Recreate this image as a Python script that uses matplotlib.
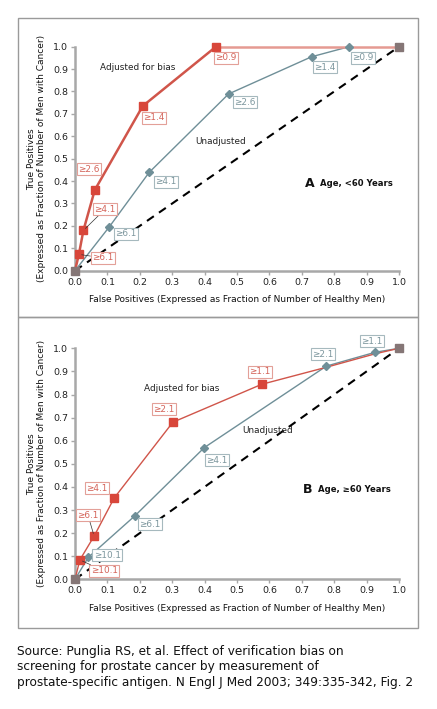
import matplotlib
matplotlib.use("Agg")
import matplotlib.pyplot as plt
from matplotlib.patches import Rectangle

# ---------------- data ----------------
# Panel A (age < 60)
a_adj_x = [0.0, 0.012, 0.026, 0.061, 0.209, 0.435, 1.0]
a_adj_y = [0.0, 0.073, 0.180, 0.360, 0.735, 1.0, 1.0]
a_adj_labels = ["≥6.1", "≥4.1", "≥2.6", "≥1.4", "≥0.9"]
a_una_x = [0.0, 0.106, 0.229, 0.474, 0.730, 0.846, 1.0]
a_una_y = [0.0, 0.196, 0.439, 0.789, 0.955, 1.0, 1.0]
a_una_labels = ["≥6.1", "≥4.1", "≥2.6", "≥1.4", "≥0.9"]

# Panel B (age >= 60)
b_adj_x = [0.0, 0.015, 0.059, 0.121, 0.302, 0.576, 0.776, 0.926, 1.0]
b_adj_y = [0.0, 0.084, 0.187, 0.352, 0.680, 0.844, 0.918, 0.976, 1.0]
b_adj_labels = ["≥10.1", "≥6.1", "≥4.1", "≥2.1", "≥1.1"]
b_una_x = [0.0, 0.041, 0.185, 0.399, 0.776, 0.927, 1.0]
b_una_y = [0.0, 0.095, 0.275, 0.570, 0.923, 0.983, 1.0]
b_una_labels = ["≥10.1", "≥6.1", "≥4.1", "≥2.1", "≥1.1"]

ticks = [0.0, 0.1, 0.2, 0.3, 0.4, 0.5, 0.6, 0.7, 0.8, 0.9, 1.0]
tick_labels = ["0.0", "0.1", "0.2", "0.3", "0.4", "0.5", "0.6", "0.7", "0.8", "0.9", "1.0"]

xlabel = "False Positives (Expressed as Fraction of Number of Healthy Men)"
ylabel = "True Positives\n(Expressed as Fraction of Number of Men with Cancer)"
source = ("Source: Punglia RS, et al. Effect of verification bias on\n"
          "screening for prostate cancer by measurement of\n"
          "prostate-specific antigen. N Engl J Med 2003; 349:335-342, Fig. 2")

RED = "#d8463a"
RED_LINE = "#d0554a"
RED_LIGHT = "#e59a92"
RED_TXT = "#d4645a"
RED_EDGE = "#e3a098"
BLUE = "#6f8f98"
BLUE_TXT = "#7c969d"
BLUE_EDGE = "#a6b9be"
GRAY_END = "#857676"
SPINE = "#a8a8a8"

W, H = 437, 709
fig = plt.figure(figsize=(W / 100, H / 100), dpi=100)
fig.patch.set_facecolor("white")


def fx(px):
    return px / W


def fy(py):
    return 1 - py / H


# frames
for top, bot in [(18, 317), (317, 628)]:
    fig.patches.append(Rectangle((fx(18), fy(bot)), fx(418) - fx(18), fy(top) - fy(bot),
                                 transform=fig.transFigure, fill=False,
                                 edgecolor="#9a9a9a", linewidth=1.0, zorder=0))


def box(color):
    return dict(boxstyle="square,pad=0.15", facecolor="white", edgecolor=color, linewidth=0.8)


def setup(ax):
    ax.set_xlim(0, 1)
    ax.set_ylim(0, 1)
    for s in ["top", "right"]:
        ax.spines[s].set_visible(False)
    for s in ["left", "bottom"]:
        ax.spines[s].set_color(SPINE)
        ax.spines[s].set_linewidth(1.8)
    ax.set_xticks(ticks)
    ax.set_xticklabels(tick_labels)
    ax.set_yticks(ticks)
    ax.set_yticklabels(tick_labels)
    ax.tick_params(axis="both", direction="out", length=3, width=1, color=SPINE,
                   labelsize=6.8, labelcolor="#222222", pad=2)
    ax.set_xlabel(xlabel, fontsize=6.5, color="#111111", labelpad=6)
    ax.set_ylabel(ylabel, fontsize=6.5, color="#111111", labelpad=5, linespacing=1.15)
    ax.patch.set_alpha(0)
    ax.plot([0, 1], [0, 1], color="black", linestyle=(0, (4, 3)), linewidth=1.5, zorder=1)


def draw(ax, adj_x, adj_y, adj_mark, una_x, una_y, una_mark, red_lw, light_from=None):
    ax.plot(una_x, una_y, color=BLUE, linewidth=1.0, zorder=2)
    ax.plot([una_x[i] for i in una_mark], [una_y[i] for i in una_mark], linestyle="none",
            marker="D", markersize=4.2, color=BLUE, zorder=4, clip_on=False)
    if light_from is None:
        ax.plot(adj_x, adj_y, color=RED_LINE, linewidth=red_lw, zorder=3, clip_on=False)
    else:
        ax.plot(adj_x[:light_from + 1], adj_y[:light_from + 1], color=RED_LINE,
                linewidth=red_lw, zorder=3, clip_on=False)
        ax.plot(adj_x[light_from:], adj_y[light_from:], color=RED_LIGHT,
                linewidth=red_lw, zorder=3, clip_on=False)
    ax.plot([adj_x[i] for i in adj_mark], [adj_y[i] for i in adj_mark], linestyle="none",
            marker="s", markersize=5.2, color=RED, zorder=5, clip_on=False)
    ax.plot([0, 1], [0, 1], linestyle="none", marker="s", markersize=5.2, color=GRAY_END,
            zorder=6, clip_on=False)


def lab(ax, text, pt, pos, color, edge, leader=False):
    if leader:
        ax.annotate(text, xy=pt, xytext=pos, textcoords="data", fontsize=6.4, color=color,
                    ha="center", va="center", bbox=box(edge), zorder=7, annotation_clip=False,
                    arrowprops=dict(arrowstyle="-", color="#333333", linewidth=0.5,
                                    shrinkA=0, shrinkB=2))
    else:
        ax.text(pos[0], pos[1], text, fontsize=6.4, color=color, ha="center", va="center",
                bbox=box(edge), zorder=7, clip_on=False)


# ---------------- Panel A ----------------
axA = fig.add_axes([fx(75), fy(270.7), fx(399) - fx(75), fy(46.7) - fy(270.7)])
setup(axA)
draw(axA, a_adj_x, a_adj_y, [1, 2, 3, 4, 5], a_una_x, a_una_y, [1, 2, 3, 4, 5], 1.8,
     light_from=5)
a_adj_pos = [(0.086, 0.057), (0.093, 0.275), (0.043, 0.454), (0.244, 0.682), (0.466, 0.950)]
a_adj_leader = [True, True, False, False, False]
for i, t in enumerate(a_adj_labels):
    lab(axA, t, (a_adj_x[i + 1], a_adj_y[i + 1]), a_adj_pos[i], RED_TXT, RED_EDGE,
        leader=a_adj_leader[i])
a_una_pos = [(0.157, 0.164), (0.281, 0.396), (0.525, 0.753), (0.772, 0.909), (0.889, 0.950)]
for i, t in enumerate(a_una_labels):
    lab(axA, t, None, a_una_pos[i], BLUE_TXT, BLUE_EDGE)
axA.text(0.194, 0.905, "Adjusted for bias", fontsize=6.4, ha="center", va="center", color="#222222")
axA.text(0.448, 0.579, "Unadjusted", fontsize=6.4, ha="center", va="center", color="#222222")
axA.text(0.71, 0.391, "A", fontsize=9, fontweight="bold", ha="left", va="center", color="#111111")
axA.text(0.755, 0.391, "Age, <60 Years", fontsize=6.1, fontweight="bold", ha="left", va="center",
         color="#111111")

# ---------------- Panel B ----------------
axB = fig.add_axes([fx(75), fy(579.3), fx(399) - fx(75), fy(348.3) - fy(579.3)])
setup(axB)
draw(axB, b_adj_x, b_adj_y, [1, 2, 3, 4, 5], b_una_x, b_una_y, [1, 2, 3, 4, 5], 1.0)
b_adj_pos = [(0.090, 0.036), (0.040, 0.278), (0.068, 0.395), (0.275, 0.737), (0.571, 0.898)]
b_adj_leader = [True, True, False, False, False]
for i, t in enumerate(b_adj_labels):
    lab(axB, t, (b_adj_x[i + 1], b_adj_y[i + 1]), b_adj_pos[i], RED_TXT, RED_EDGE,
        leader=b_adj_leader[i])
b_una_pos = [(0.099, 0.105), (0.231, 0.239), (0.438, 0.516), (0.765, 0.975), (0.917, 1.031)]
for i, t in enumerate(b_una_labels):
    lab(axB, t, None, b_una_pos[i], BLUE_TXT, BLUE_EDGE)
axB.text(0.330, 0.824, "Adjusted for bias", fontsize=6.4, ha="center", va="center", color="#222222")
axB.text(0.593, 0.646, "Unadjusted", fontsize=6.4, ha="center", va="center", color="#222222")
axB.text(0.704, 0.387, "B", fontsize=9, fontweight="bold", ha="left", va="center", color="#111111")
axB.text(0.750, 0.387, "Age, ≥60 Years", fontsize=6.1, fontweight="bold", ha="left", va="center",
         color="#111111")

# ---------------- source ----------------
fig.text(fx(17), fy(644.5), source, fontsize=8.7, ha="left", va="top", color="#111111",
         linespacing=1.27)

fig.savefig("out.png", dpi=100, facecolor="white")
